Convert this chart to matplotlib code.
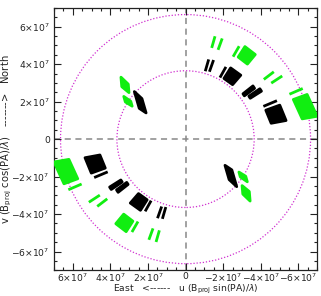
import matplotlib
matplotlib.use('Agg')
import numpy as np
import matplotlib.pyplot as plt
from matplotlib.patches import Circle
from matplotlib.ticker import MultipleLocator, FuncFormatter

# uv snapshots in units of 1e7 wavelengths (reference channel), upper half only.
# the other half is the (-u, -v) mirror. bars have start == end.
black_u0 = [-1.14, -1.38, -1.99, -2.22, -3.32, -3.66, -4.50, -4.64, 2.52]
black_v0 = [3.94, 3.91, 3.57, 3.52, 2.63, 2.49, 1.90, 1.68, 2.35]
black_u1 = [-1.14, -1.38, -1.99, -2.72, -3.40, -3.74, -4.50, -4.95, 2.28]
black_v1 = [3.94, 3.91, 3.57, 3.16, 2.51, 2.37, 1.90, 0.92, 1.52]
black_lam = [0.92, 1.08]   # relative spectral spread

green_u0 = [-1.48, -1.84, -2.69, -2.98, -4.43, -4.85, -5.88, -6.10, 3.24, 3.10]
green_v0 = [5.18, 5.07, 4.68, 4.66, 3.39, 3.18, 2.55, 2.25, 3.12, 2.15]
green_u1 = [-1.48, -1.84, -2.69, -3.50, -4.43, -4.85, -5.88, -6.60, 3.20, 3.02]
green_v1 = [5.18, 5.07, 4.68, 4.26, 3.39, 3.18, 2.55, 1.15, 2.64, 1.87]
green_lam = [0.94, 1.06]

circle_radii = [3.65e7, 6.65e7]
major_ticks = [-6e7, -4e7, -2e7, 0, 2e7, 4e7, 6e7]

fig = plt.figure(figsize=(3.21, 2.96), dpi=100)
ax = fig.add_axes([0.168, 0.087, 0.82, 0.886])


def draw(u0, v0, u1, v1, lam, color):
    for a, b, c, d in zip(u0, v0, u1, v1):
        for sgn in (1, -1):
            xs = np.array([a * lam[0], c * lam[0], c * lam[1], a * lam[1]]) * 1e7 * sgn
            ys = np.array([b * lam[0], d * lam[0], d * lam[1], b * lam[1]]) * 1e7 * sgn
            ax.fill(xs, ys, facecolor=color, edgecolor=color, lw=2.0,
                    joinstyle='round', zorder=3)


ax.axhline(0, color='#888888', ls=(0, (4, 3)), lw=1.1, zorder=1)
ax.axvline(0, color='#888888', ls=(0, (4, 3)), lw=1.1, zorder=1)
for r in circle_radii:
    ax.add_patch(Circle((0, 0), r, fill=False, ec='#d030d0', ls=(0, (1, 1.5)), lw=0.9, zorder=2))

draw(black_u0, black_v0, black_u1, black_v1, black_lam, 'black')
draw(green_u0, green_v0, green_u1, green_v1, green_lam, '#11ee11')

ax.set_xlim(7e7, -7e7)
ax.set_ylim(-7e7, 7e7)


def fmt(x, pos):
    if abs(x) < 1:
        return '0'
    m = int(round(x / 1e7))
    s = '-' if m < 0 else ''
    return r'$%s%d{\times}10^{7}$' % (s, abs(m))


for axis in (ax.xaxis, ax.yaxis):
    axis.set_major_locator(plt.FixedLocator(major_ticks))
    axis.set_minor_locator(MultipleLocator(0.5e7))
    axis.set_major_formatter(FuncFormatter(fmt))

ax.tick_params(which='both', direction='in', top=True, right=True,
               labelsize=6.6, colors='#222222', width=0.8)
ax.tick_params(which='major', length=5)
ax.tick_params(axis='x', which='major', pad=1)
ax.tick_params(axis='y', which='major', pad=3)
ax.tick_params(which='minor', length=2.5)
for sp in ax.spines.values():
    sp.set_linewidth(0.9)
    sp.set_color('#222222')

ax.set_xlabel(r'East   <------   u (B$_{\rm proj}$ sin(PA)/$\lambda$)', fontsize=6.7,
              color='#222222', va='bottom')
ax.set_ylabel(r'v (B$_{\rm proj}$ cos(PA)/$\lambda$)   ------->   North', fontsize=7.2,
              color='#222222')
ax.xaxis.set_label_coords(0.5, -0.098)
ax.yaxis.set_label_coords(-0.153, 0.5)

fig.savefig('out.png', dpi=100)
